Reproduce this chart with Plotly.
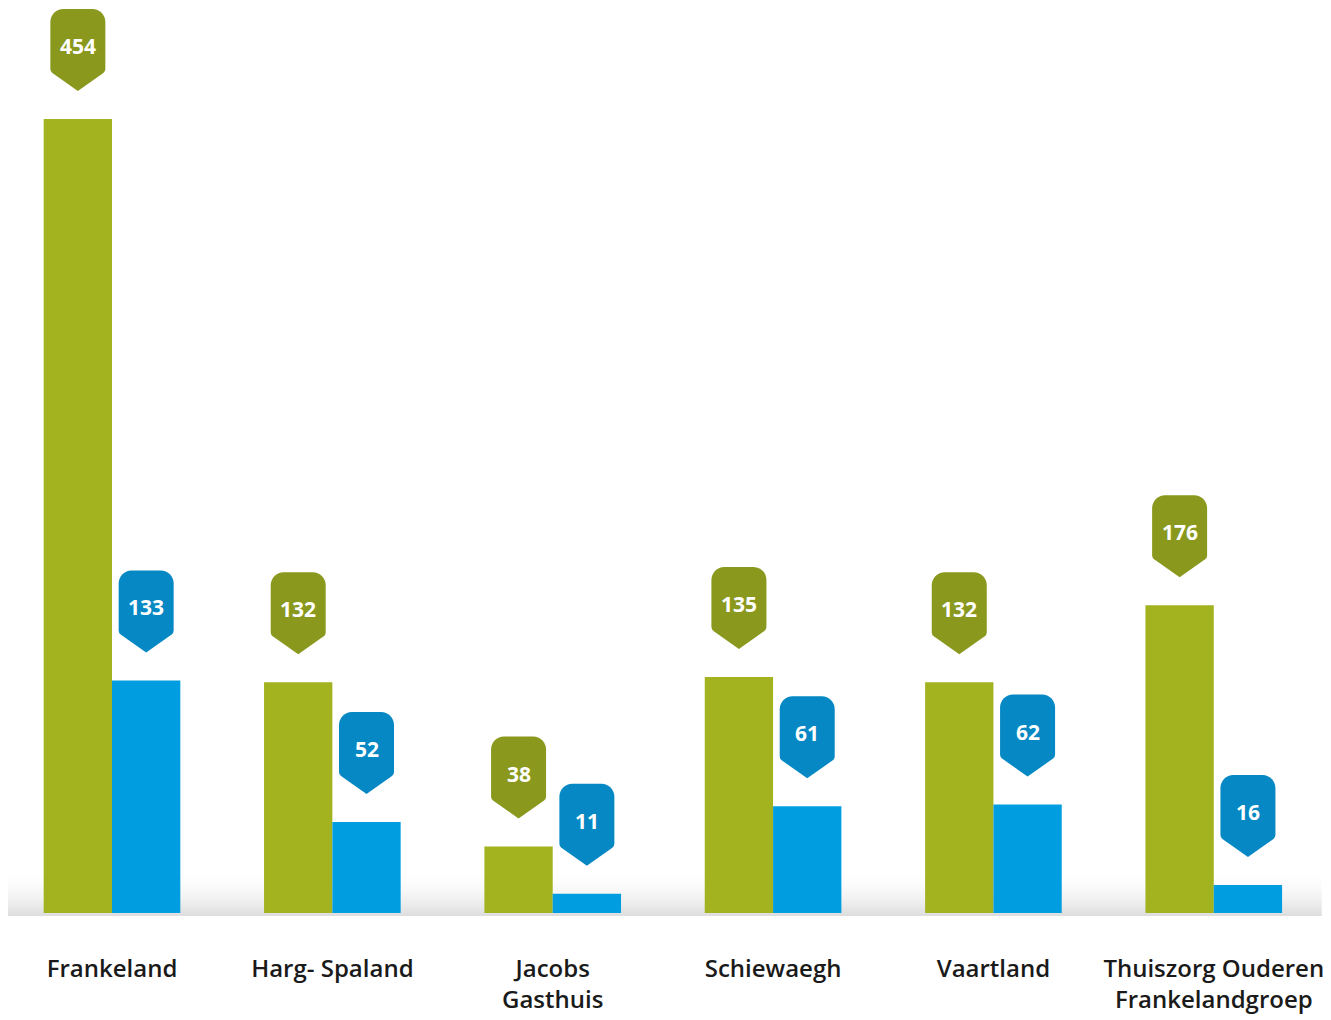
import numpy as np
import plotly.graph_objects as go

# ---- data ----
categories = ["Frankeland", "Harg- Spaland", "Jacobs<br>Gasthuis", "Schiewaegh",
              "Vaartland", "Thuiszorg Ouderen<br>Frankelandgroep"]
green_values = [454, 132, 38, 135, 132, 176]
blue_values = [133, 52, 11, 61, 62, 16]

# ---- styles ----
GREEN = "#a3b21f"
BLUE = "#009ee0"
GREEN_PIN = "#8a991d"
BLUE_PIN = "#0588c4"
FONT = "Open Sans"

BARGAP = 0.38
x = np.arange(len(categories))
bar_w = (1 - BARGAP) / 2
off = bar_w / 2  # centre offset of each bar in its group

# pin outline in pixels, relative to bar top centre (y positive = up)
k = 7.2
PIN = ("M -27.5,50 L -27.5,97 "
       f"C -27.5,{97 + k} {-14.5 - k},110 -14.5,110 "
       "L 14.5,110 "
       f"C {14.5 + k},110 27.5,{97 + k} 27.5,97 "
       "L 27.5,50 Q 27.5,47.5 25.5,46 L 0,28 L -25.5,46 Q -27.5,47.5 -27.5,50 Z")

fig = go.Figure()
fig.add_bar(x=x, y=green_values, marker=dict(color=GREEN, line=dict(width=0)),
            name="groen", hoverinfo="skip")
fig.add_bar(x=x, y=blue_values, marker=dict(color=BLUE, line=dict(width=0)),
            name="blauw", hoverinfo="skip")

shapes = []
# floor shadow (vertical gradient made of thin strips)
n_strips = 24
for i in range(n_strips):
    t = i / (n_strips - 1)
    a = 0.13 * (1 - t) ** 2
    shapes.append(dict(type="rect", xref="paper", yref="y", ysizemode="pixel",
                       yanchor=0, x0=0.0, x1=0.993, y0=-3 + 2 * i, y1=-1 + 2 * i,
                       fillcolor=f"rgba(0,0,0,{a:.4f})", line=dict(width=0),
                       layer="below"))

annotations = []
for values, sign, pin_col in ((green_values, -1, GREEN_PIN), (blue_values, 1, BLUE_PIN)):
    for xi, v in zip(x, values):
        xc = float(xi + sign * off)
        shapes.append(dict(type="path", xref="x", yref="y",
                           xsizemode="pixel", ysizemode="pixel",
                           xanchor=xc, yanchor=v, path=PIN,
                           fillcolor=pin_col, line=dict(width=0), layer="above"))
        annotations.append(dict(x=xc, y=v, xref="x", yref="y", text=str(v),
                                showarrow=False, yshift=73, xanchor="center",
                                yanchor="middle",
                                font=dict(family=FONT, size=21, color="white",
                                          weight="bold")))

fig.update_layout(
    width=1323, height=1012,
    margin=dict(l=0, r=0, t=0, b=104),
    barmode="group", bargap=BARGAP, bargroupgap=0,
    plot_bgcolor="white", paper_bgcolor="white",
    showlegend=False,
    shapes=shapes, annotations=annotations,
    xaxis=dict(range=[-0.472, 5.532], tickvals=x, ticktext=categories,
               showgrid=False, zeroline=False, showline=False, ticks="",
               ticklabelstandoff=36,
               tickfont=dict(family=FONT, size=24, color="#1a1a1a", weight=600)),
    yaxis=dict(range=[-1.7, 517.4], visible=False, showgrid=False, zeroline=False),
)

fig.write_html("out.html")
